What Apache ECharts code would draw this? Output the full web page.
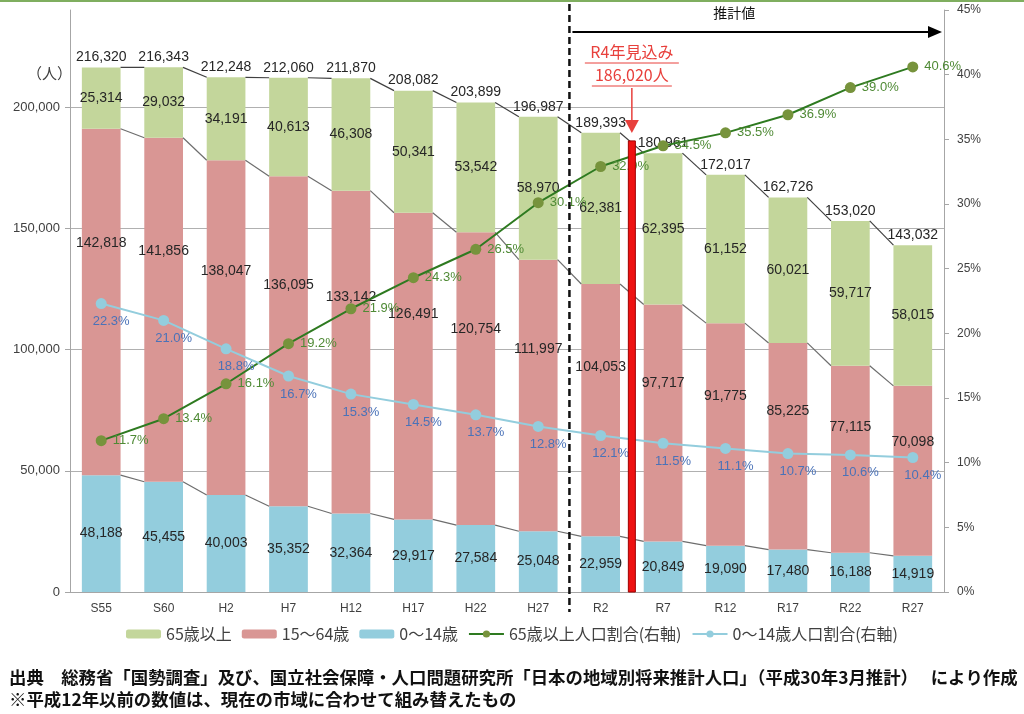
<!DOCTYPE html>
<html>
<head>
<meta charset="utf-8">
<script src="https://cdn.jsdelivr.net/npm/echarts@6/dist/echarts.min.js"></script>
<style>
html,body{margin:0;padding:0;background:#fff;}
#chart{width:1024px;height:714px;}
</style>
</head>
<body>
<div id="chart"></div>
<script>
// ---- data ----
const categories = ['S55','S60','H2','H7','H12','H17','H22','H27','R2','R7','R12','R17','R22','R27'];
const age65plus = [25314,29032,34191,40613,46308,50341,53542,58970,62381,62395,61152,60021,59717,58015];
const age15to64 = [142818,141856,138047,136095,133142,126491,120754,111997,104053,97717,91775,85225,77115,70098];
const age0to14 = [48188,45455,40003,35352,32364,29917,27584,25048,22959,20849,19090,17480,16188,14919];
const totals = [216320,216343,212248,212060,211870,208082,203899,196987,189393,180961,172017,162726,153020,143032];
const pct65plus = [11.7,13.4,16.1,19.2,21.9,24.3,26.5,30.1,32.9,34.5,35.5,36.9,39.0,40.6];
const pct0to14 = [22.3,21.0,18.8,16.7,15.3,14.5,13.7,12.8,12.1,11.5,11.1,10.7,10.6,10.4];
const leftTicks = [0,50000,100000,150000,200000];
const r4Estimate = 186020;
const projectionStartIndex = 8; // R2 onward is projection
const legendNames = ['65歳以上','15～64歳','0～14歳','65歳以上人口割合(右軸)','0～14歳人口割合(右軸)'];

// ---- helpers ----
const fmt = v => v.toLocaleString('en-US');
const NUMFONT = "'Liberation Sans', Arial, sans-serif";
const JPFONT = "'Noto Sans CJK JP', sans-serif";
const BAR_FRAC = 0.62;

const stackTops = categories.map((c,i)=>[age0to14[i], age0to14[i]+age15to64[i], age0to14[i]+age15to64[i]+age65plus[i]]);
const connectorData = [];
for (let i=0;i<categories.length-1;i++){
  connectorData.push([i, stackTops[i][0], stackTops[i+1][0], stackTops[i][1], stackTops[i+1][1], stackTops[i][2], stackTops[i+1][2]]);
}
const totalData = categories.map((c,i)=>[i, stackTops[i][2], totals[i]]);

const chart = echarts.init(document.getElementById('chart'), null, {renderer:'canvas'});

const barLabel = {show:true, position:'inside', color:'#262626', fontSize:14, fontFamily:NUMFONT, formatter:p=>fmt(p.value)};
const midLabel = Object.assign({}, barLabel, {position:['50%','33%'], align:'center', verticalAlign:'middle'});

const option = {
  animation:false,
  backgroundColor:'#fff',
  textStyle:{fontFamily:JPFONT},
  title:[
    {text:'（人）', left:22, top:61, textStyle:{fontSize:15, fontWeight:'normal', color:'#404040', fontFamily:JPFONT}},
    {text:'出典　総務省「国勢調査」及び、国立社会保障・人口問題研究所「日本の地域別将来推計人口」（平成30年3月推計）　 により作成', left:4, top:664, textStyle:{fontSize:17.4, fontWeight:'bold', color:'#111', fontFamily:JPFONT}},
    {text:'※平成12年以前の数値は、現在の市域に合わせて組み替えたもの', left:4, top:686, textStyle:{fontSize:17.4, fontWeight:'bold', color:'#111', fontFamily:JPFONT}}
  ],
  graphic:[{type:'line', shape:{x1:0,y1:1,x2:1024,y2:1}, style:{stroke:'#7fae5f', lineWidth:2}}],
  legend:{
    data:legendNames, left:'center', top:621, itemWidth:35, itemHeight:9, itemGap:10,
    textStyle:{fontSize:16, color:'#404040', fontFamily:JPFONT}
  },
  grid:{left:70, right:80, top:10, bottom:122, containLabel:false},
  xAxis:{
    type:'category', data:categories,
    axisLine:{lineStyle:{color:'#a6a6a6'}}, axisTick:{show:false},
    axisLabel:{color:'#404040', fontSize:12, fontFamily:NUMFONT, margin:11}
  },
  yAxis:[
    {type:'value', min:0, max:240000, interval:50000,
     axisLine:{show:true, lineStyle:{color:'#a6a6a6'}},
     axisTick:{show:true, length:5, lineStyle:{color:'#a6a6a6'}},
     axisLabel:{color:'#404040', fontSize:13, fontFamily:NUMFONT, showMaxLabel:false, margin:10,
       formatter:v=> leftTicks.includes(v)? fmt(v):''},
     splitLine:{show:true, lineStyle:{color:['#b0b0b0','#b0b0b0','#b0b0b0','#b0b0b0','#b0b0b0','rgba(0,0,0,0)']}}
    },
    {type:'value', min:0, max:45, interval:5, position:'right',
     axisLine:{show:true, lineStyle:{color:'#a6a6a6'}},
     axisTick:{show:true, length:5, lineStyle:{color:'#a6a6a6'}},
     axisLabel:{color:'#404040', fontSize:12, fontFamily:NUMFONT, formatter:'{value}%', margin:13},
     splitLine:{show:false}
    }
  ],
  series:[
    {name:'0～14歳', type:'bar', stack:'pop', barWidth:(BAR_FRAC*100)+'%', data:age0to14, itemStyle:{color:'#93cddd'}, label:barLabel, z:2},
    {name:'15～64歳', type:'bar', stack:'pop', barWidth:(BAR_FRAC*100)+'%', data:age15to64, itemStyle:{color:'#d99694'}, label:midLabel, z:2},
    {name:'65歳以上', type:'bar', stack:'pop', barWidth:(BAR_FRAC*100)+'%', data:age65plus, itemStyle:{color:'#c3d69b'}, label:barLabel, z:2},
    {name:'connectors', type:'custom', data:connectorData, z:3, silent:true,
     renderItem:(params, api)=>{
       const i = api.value(0);
       const hw = api.size([1,0])[0]*BAR_FRAC/2;
       const children=[];
       for (let k=0;k<3;k++){
         const p0 = api.coord([i, api.value(1+2*k)]);
         const p1 = api.coord([i+1, api.value(2+2*k)]);
         children.push({type:'line', shape:{x1:p0[0]+hw, y1:p0[1], x2:p1[0]-hw, y2:p1[1]},
           style:{stroke: k===2?'#404040':'#6d6d6d', lineWidth:1.2}});
       }
       return {type:'group', children};
     }},
    {name:'totals', type:'custom', data:totalData, z:4, silent:true,
     renderItem:(params, api)=>{
       const p = api.coord([api.value(0), api.value(1)]);
       return {type:'text', x:p[0], y:p[1]-3,
         style:{text:fmt(api.value(2)), fill:'#262626', font:'14px '+NUMFONT, align:'center', verticalAlign:'bottom'}};
     }},
    {name:'65歳以上人口割合(右軸)', type:'line', yAxisIndex:1, data:pct65plus, z:6,
     symbol:'circle', symbolSize:11,
     lineStyle:{color:'#2e7a20', width:2}, itemStyle:{color:'#77933c'},
     label:{show:true, position:'right', distance:6, color:'#4f8a35', fontSize:13, fontFamily:NUMFONT, formatter:p=>p.value.toFixed(1)+'%'}},
    {name:'0～14歳人口割合(右軸)', type:'line', yAxisIndex:1, data:pct0to14, z:6,
     symbol:'circle', symbolSize:11,
     lineStyle:{color:'#93cddd', width:2}, itemStyle:{color:'#93cddd'},
     label:{show:true, position:'bottom', distance:6, offset:[10,0], color:'#4a72b8', fontSize:13, fontFamily:NUMFONT, formatter:p=>p.value.toFixed(1)+'%'}},
    {name:'annotations', type:'custom', data:[[projectionStartIndex, r4Estimate]], z:8, silent:true, clip:false,
     renderItem:(params, api)=>{
       const cs = params.coordSys;
       const top = cs.y, bottom = cs.y+cs.height, right = cs.x+cs.width;
       const idx = api.value(0);
       const v = api.value(1);
       const xDash = (api.coord([idx-1,0])[0] + api.coord([idx,0])[0])/2;
       const pv = api.coord([idx, v]);
       const xR4 = (pv[0] + api.coord([idx+1, v])[0])/2;
       const yTop = pv[1];
       const red = '#e8403c';
       const ay = top+22;
       const l1 = 'R4年見込み', l2 = fmt(v)+'人';
       return {type:'group', children:[
         {type:'line', shape:{x1:xDash,y1:top-6,x2:xDash,y2:bottom+20}, style:{stroke:'#111', lineWidth:2.5, lineDash:[7,4]}},
         {type:'line', shape:{x1:xDash+3,y1:ay,x2:right-14,y2:ay}, style:{stroke:'#000', lineWidth:2}},
         {type:'polygon', shape:{points:[[right-16,ay-6],[right-2,ay],[right-16,ay+6]]}, style:{fill:'#000'}},
         {type:'text', x:xDash+0.44*(right-xDash), y:top+3, style:{text:'推計値', fill:'#111', font:'14px '+JPFONT, align:'center', verticalAlign:'middle'}},
         {type:'rect', shape:{x:xR4-3.5, y:yTop, width:7, height:bottom-yTop}, style:{fill:'#ee1111', stroke:'#a00000', lineWidth:1}},
         {type:'line', shape:{x1:xR4,y1:top+78,x2:xR4,y2:yTop-20}, style:{stroke:red, lineWidth:1.5}},
         {type:'polygon', shape:{points:[[xR4-7,yTop-21],[xR4+7,yTop-21],[xR4,yTop-8]]}, style:{fill:red}},
         {type:'text', x:xR4, y:top+42, style:{text:l1, fill:red, font:'16px '+JPFONT, align:'center', verticalAlign:'middle'}},
         {type:'line', shape:{x1:xR4-47,y1:top+53,x2:xR4+47,y2:top+53}, style:{stroke:red, lineWidth:1}},
         {type:'text', x:xR4, y:top+65, style:{text:l2, fill:red, font:'16px '+JPFONT, align:'center', verticalAlign:'middle'}},
         {type:'line', shape:{x1:xR4-40,y1:top+76,x2:xR4+40,y2:top+76}, style:{stroke:red, lineWidth:1}}
       ]};
     }}
  ]
};
chart.setOption(option);
</script>
</body>
</html>
